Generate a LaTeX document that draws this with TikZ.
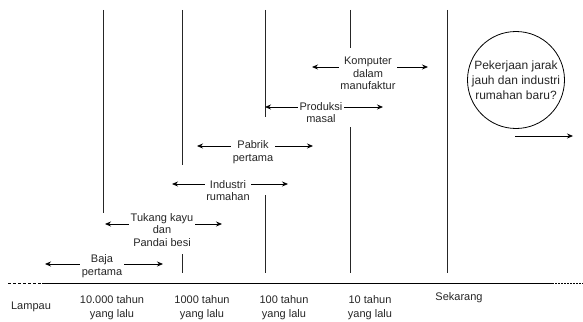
\documentclass[tikz,border=0pt]{standalone}
\usepackage{fontspec}
\setmainfont{Liberation Sans}
\usetikzlibrary{arrows.meta}
\tikzset{
  vline/.style={line width=0.9pt, draw=black!85},
  dbl/.style={line width=0.8pt, {Stealth[length=6pt,width=5pt]}-{Stealth[length=6pt,width=5pt]}},
  sgl/.style={line width=0.8pt, -{Stealth[length=6pt,width=5pt]}},
  lbl/.style={fill=white, inner sep=1.5pt, align=center, font=\fontsize{11}{12.5}\selectfont, text=black!85},
  btxt/.style={inner sep=0pt, align=center, font=\fontsize{11}{14.5}\selectfont, text=black!85},
}
\begin{document}
\begin{tikzpicture}[x=1pt,y=-1pt]
\useasboundingbox (0,0) rectangle (583,321);
% time axis
\coordinate (a0) at (8,283);
\coordinate (a1) at (42,283);
\coordinate (a2) at (552,283);
\coordinate (a3) at (583,283);
\draw[line width=0.8pt, dash pattern=on 3pt off 2pt] (a0) -- (a1);
\draw[line width=0.9pt] (a1) -- (a2);
\draw[line width=0.8pt, dash pattern=on 1.5pt off 1.5pt] (a2) -- (a3);
% vertical lines
\coordinate (v1t) at (103,10); \coordinate (v1b) at (103,213);
\coordinate (v2t) at (182,10); \coordinate (v2m) at (182,165);
\coordinate (v2n) at (182,254); \coordinate (v2b) at (182,273);
\coordinate (v3t) at (265,10); \coordinate (v3m) at (265,117);
\coordinate (v3n) at (265,195); \coordinate (v3b) at (265,273);
\coordinate (v4t) at (350,10); \coordinate (v4m) at (350,48);
\coordinate (v4n) at (350,127); \coordinate (v4b) at (350,273);
\coordinate (v5t) at (447,10); \coordinate (v5b) at (447,273);
\draw[vline] (v1t) -- (v1b);
\draw[vline] (v2t) -- (v2m);
\draw[vline] (v2n) -- (v2b);
\draw[vline] (v3t) -- (v3m);
\draw[vline] (v3n) -- (v3b);
\draw[vline] (v4t) -- (v4m);
\draw[vline] (v4n) -- (v4b);
\draw[vline] (v5t) -- (v5b);
% arrows
\coordinate (bajaL) at (45,264); \coordinate (bajaR) at (163,264);
\draw[dbl] (bajaL) -- (bajaR);
\node[lbl] (baja) at (102,266) {Baja\\pertama};
\coordinate (tukL) at (105,224); \coordinate (tukR) at (222,224);
\draw[dbl] (tukL) -- (tukR);
\node[lbl] (tuk) at (162,230) {Tukang kayu\\dan\\Pandai besi};
\coordinate (indL) at (172,184); \coordinate (indR) at (288,184);
\draw[dbl] (indL) -- (indR);
\node[lbl] (ind) at (228,190.5) {Industri\\rumahan};
\coordinate (pabL) at (197,146); \coordinate (pabR) at (313,146);
\draw[dbl] (pabL) -- (pabR);
\node[lbl] (pab) at (253,152) {Pabrik\\pertama};
\coordinate (proL) at (265,107); \coordinate (proR) at (383,107);
\draw[dbl] (proL) -- (proR);
\node[lbl] (pro) at (321,112.5) {Produksi\\masal};
\coordinate (komL) at (312,67); \coordinate (komR) at (428,67);
\draw[dbl] (komL) -- (komR);
\node[lbl] (kom) at (368,73.5) {Komputer\\dalam\\manufaktur};
% circle
\node[draw, circle, line width=0.8pt, minimum size=97pt, inner sep=0pt, align=center,
  font=\fontsize{12}{15}\selectfont, text=black!85] (fut) at (516,80)
  {Pekerjaan jarak\\jauh dan industri\\rumahan baru?};
\coordinate (fL) at (515,136); \coordinate (fR) at (573,136);
\draw[sgl] (fL) -- (fR);
% bottom labels
\node[btxt] (t0) at (31,307) {Lampau};
\node[btxt] (t1) at (112,307.5) {10.000 tahun\\yang lalu};
\node[btxt] (t2) at (202,307.5) {1000 tahun\\yang lalu};
\node[btxt] (t3) at (284,307.5) {100 tahun\\yang lalu};
\node[btxt] (t4) at (370,307.5) {10 tahun\\yang lalu};
\node[btxt] (t5) at (459,298) {Sekarang};
\end{tikzpicture}
\end{document}
